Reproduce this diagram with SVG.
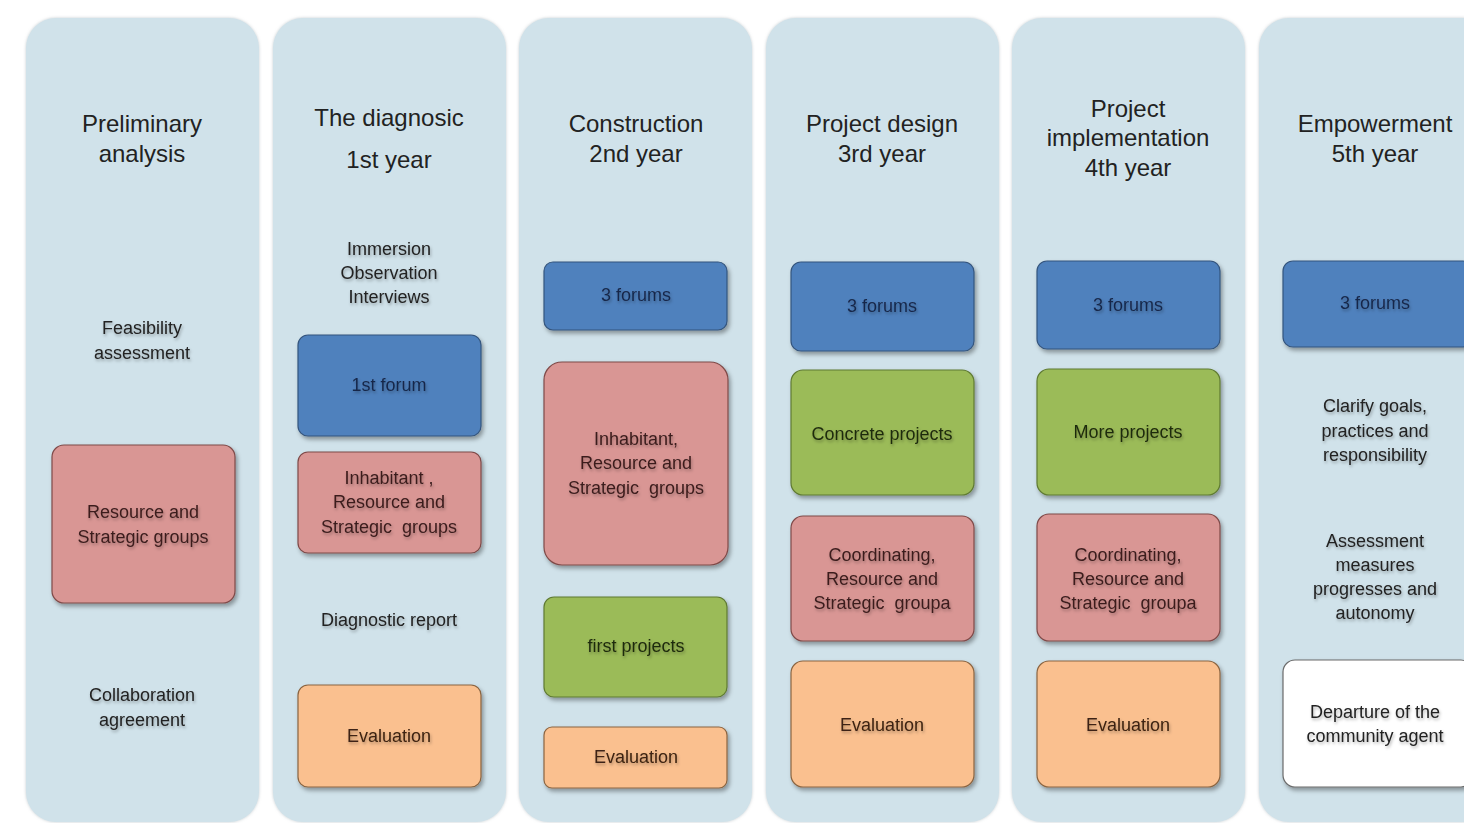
<svg xmlns="http://www.w3.org/2000/svg" width="1464" height="823" viewBox="0 0 1464 823">
  <defs>
    <filter id="boxShadow" x="-10%" y="-10%" width="125%" height="130%">
      <feDropShadow dx="2" dy="3" stdDeviation="2" flood-color="#000" flood-opacity="0.35"/>
    </filter>
    <filter id="colShadow" x="-5%" y="-5%" width="110%" height="110%">
      <feDropShadow dx="0" dy="0" stdDeviation="1.5" flood-color="#8a9aa2" flood-opacity="0.5"/>
    </filter>
    <filter id="textShadow" x="-10%" y="-20%" width="120%" height="150%">
      <feDropShadow dx="1" dy="2" stdDeviation="1.5" flood-color="#000" flood-opacity="0.3"/>
    </filter>
  </defs>
  <style>
    .col { fill: #d0e2ea; filter: url(#colShadow); }
    .box { stroke-width: 1.2; filter: url(#boxShadow); }
    .blue { fill: #4f81bd; stroke: #34557e; }
    .pink { fill: #d99694; stroke: #7f4a48; }
    .green { fill: #9bbb59; stroke: #5f7a32; }
    .orange { fill: #fac08f; stroke: #8a6440; }
    .white { fill: #ffffff; stroke: #6b6b6b; }
    text { font-family: "Liberation Sans", Arial, sans-serif; text-anchor: middle; white-space: pre; }
    .head { font-size: 24px; fill: #222222; }
    .lbl { font-size: 18px; fill: #222222; filter: url(#textShadow); }
    .tblue { fill: #17284a; }
    .tpink { fill: #3a1c1c; }
    .tgreen { fill: #1f2a0c; }
    .torange { fill: #3d2412; }
  </style>
  <rect width="1464" height="823" fill="#ffffff"/>

  <!-- Phase columns -->
  <g id="columns">
    <rect class="col" x="26" y="18" width="233" height="804" rx="30"/>
    <rect class="col" x="273" y="18" width="233" height="804" rx="30"/>
    <rect class="col" x="519" y="18" width="233" height="804" rx="30"/>
    <rect class="col" x="766" y="18" width="233" height="804" rx="30"/>
    <rect class="col" x="1012" y="18" width="233" height="804" rx="30"/>
    <rect class="col" x="1259" y="18" width="233" height="804" rx="30"/>
  </g>

  <!-- Column 1: Preliminary analysis -->
  <g id="phase-preliminary">
    <text class="head" x="142" y="132">Preliminary</text>
    <text class="head" x="142" y="162">analysis</text>
    <text class="lbl" x="142" y="334">Feasibility</text>
    <text class="lbl" x="142" y="359">assessment</text>
    <g id="prelim-groups">
      <rect class="box pink" x="52" y="445" width="183" height="158" rx="12"/>
      <text class="lbl tpink" x="143" y="518">Resource and</text>
      <text class="lbl tpink" x="143" y="543">Strategic groups</text>
    </g>
    <text class="lbl" x="142" y="701">Collaboration</text>
    <text class="lbl" x="142" y="726">agreement</text>
  </g>

  <!-- Column 2: The diagnosic -->
  <g id="phase-diagnosic">
    <text class="head" x="389" y="126">The diagnosic</text>
    <text class="head" x="389" y="168">1st year</text>
    <text class="lbl" x="389" y="255">Immersion</text>
    <text class="lbl" x="389" y="279">Observation</text>
    <text class="lbl" x="389" y="303">Interviews</text>
    <g id="diag-forum">
      <rect class="box blue" x="298" y="335" width="183" height="101" rx="10"/>
      <text class="lbl tblue" x="389" y="391">1st forum</text>
    </g>
    <g id="diag-groups">
      <rect class="box pink" x="298" y="452" width="183" height="101" rx="10"/>
      <text class="lbl tpink" x="389" y="484">Inhabitant ,</text>
      <text class="lbl tpink" x="389" y="508">Resource and</text>
      <text class="lbl tpink" x="389" y="533">Strategic  groups</text>
    </g>
    <text class="lbl" x="389" y="626">Diagnostic report</text>
    <g id="diag-eval">
      <rect class="box orange" x="298" y="685" width="183" height="102" rx="10"/>
      <text class="lbl torange" x="389" y="742">Evaluation</text>
    </g>
  </g>

  <!-- Column 3: Construction -->
  <g id="phase-construction">
    <text class="head" x="636" y="132">Construction</text>
    <text class="head" x="636" y="162">2nd year</text>
    <g id="cons-forums">
      <rect class="box blue" x="544" y="262" width="183" height="68" rx="9"/>
      <text class="lbl tblue" x="636" y="301">3 forums</text>
    </g>
    <g id="cons-groups">
      <rect class="box pink" x="544" y="362" width="184" height="203" rx="18"/>
      <text class="lbl tpink" x="636" y="445">Inhabitant,</text>
      <text class="lbl tpink" x="636" y="469">Resource and</text>
      <text class="lbl tpink" x="636" y="494">Strategic  groups</text>
    </g>
    <g id="cons-projects">
      <rect class="box green" x="544" y="597" width="183" height="100" rx="10"/>
      <text class="lbl tgreen" x="636" y="652">first projects</text>
    </g>
    <g id="cons-eval">
      <rect class="box orange" x="544" y="727" width="183" height="61" rx="8"/>
      <text class="lbl torange" x="636" y="763">Evaluation</text>
    </g>
  </g>

  <!-- Column 4: Project design -->
  <g id="phase-design">
    <text class="head" x="882" y="132">Project design</text>
    <text class="head" x="882" y="162">3rd year</text>
    <g id="design-forums">
      <rect class="box blue" x="791" y="262" width="183" height="89" rx="10"/>
      <text class="lbl tblue" x="882" y="312">3 forums</text>
    </g>
    <g id="design-projects">
      <rect class="box green" x="791" y="370" width="183" height="125" rx="12"/>
      <text class="lbl tgreen" x="882" y="440">Concrete projects</text>
    </g>
    <g id="design-groups">
      <rect class="box pink" x="791" y="516" width="183" height="125" rx="12"/>
      <text class="lbl tpink" x="882" y="561">Coordinating,</text>
      <text class="lbl tpink" x="882" y="585">Resource and</text>
      <text class="lbl tpink" x="882" y="609">Strategic  groupa</text>
    </g>
    <g id="design-eval">
      <rect class="box orange" x="791" y="661" width="183" height="126" rx="12"/>
      <text class="lbl torange" x="882" y="731">Evaluation</text>
    </g>
  </g>

  <!-- Column 5: Project implementation -->
  <g id="phase-implementation">
    <text class="head" x="1128" y="117">Project</text>
    <text class="head" x="1128" y="146">implementation</text>
    <text class="head" x="1128" y="176">4th year</text>
    <g id="impl-forums">
      <rect class="box blue" x="1037" y="261" width="183" height="88" rx="10"/>
      <text class="lbl tblue" x="1128" y="311">3 forums</text>
    </g>
    <g id="impl-projects">
      <rect class="box green" x="1037" y="369" width="183" height="126" rx="12"/>
      <text class="lbl tgreen" x="1128" y="438">More projects</text>
    </g>
    <g id="impl-groups">
      <rect class="box pink" x="1037" y="514" width="183" height="127" rx="12"/>
      <text class="lbl tpink" x="1128" y="561">Coordinating,</text>
      <text class="lbl tpink" x="1128" y="585">Resource and</text>
      <text class="lbl tpink" x="1128" y="609">Strategic  groupa</text>
    </g>
    <g id="impl-eval">
      <rect class="box orange" x="1037" y="661" width="183" height="126" rx="12"/>
      <text class="lbl torange" x="1128" y="731">Evaluation</text>
    </g>
  </g>

  <!-- Column 6: Empowerment -->
  <g id="phase-empowerment">
    <text class="head" x="1375" y="132">Empowerment</text>
    <text class="head" x="1375" y="162">5th year</text>
    <g id="emp-forums">
      <rect class="box blue" x="1283" y="261" width="190" height="86" rx="10"/>
      <text class="lbl tblue" x="1375" y="309">3 forums</text>
    </g>
    <text class="lbl" x="1375" y="412">Clarify goals,</text>
    <text class="lbl" x="1375" y="437">practices and</text>
    <text class="lbl" x="1375" y="461">responsibility</text>
    <text class="lbl" x="1375" y="547">Assessment</text>
    <text class="lbl" x="1375" y="571">measures</text>
    <text class="lbl" x="1375" y="595">progresses and</text>
    <text class="lbl" x="1375" y="619">autonomy</text>
    <g id="emp-departure">
      <rect class="box white" x="1283" y="660" width="190" height="127" rx="12"/>
      <text class="lbl" x="1375" y="718">Departure of the</text>
      <text class="lbl" x="1375" y="742">community agent</text>
    </g>
  </g>

  <!-- No connectors in this diagram -->
  <g id="connectors"/>
</svg>
